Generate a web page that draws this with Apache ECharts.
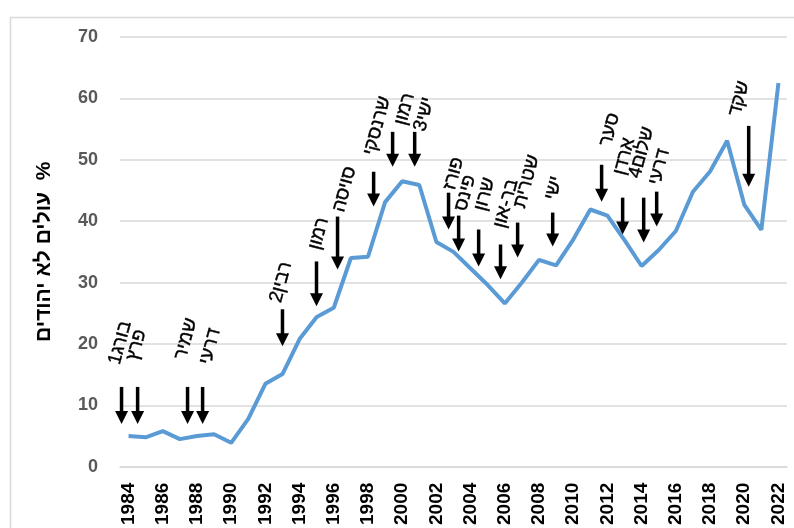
<!DOCTYPE html>
<html><head><meta charset="utf-8">
<script src="https://cdn.jsdelivr.net/npm/echarts@6/dist/echarts.min.js"></script>
<style>html,body{margin:0;padding:0;background:#fff}#c{width:794px;height:528px}</style>
</head><body><div id="c"></div>
<script>
const years = [];
for (let y = 1984; y <= 2022; y++) years.push(String(y));
const values = [5.0,4.8,5.8,4.5,5.0,5.3,3.9,7.8,13.5,15.1,20.8,24.4,25.9,34.0,34.2,43.1,46.5,45.9,36.6,35.0,32.3,29.6,26.6,30.0,33.7,32.8,37.0,41.9,40.9,36.9,32.7,35.3,38.4,44.8,48.1,53.1,42.7,38.6,62.5];
const yTicks = [0,10,20,30,40,50,60,70];
const yTitle = 'עולים לא יהודים  %';

// annotations (arrows marking ministers), in data units
const annoLabels = ['בורג1','פרץ','שמיר','דרעי','רבין2','רמון','סויסה','שרנסקי','רמון','ישי3','פורז','פינס','שרון','בר-און','שטרית','ישי','סער','ארדן','שלום4','דרעי','שקד'];
const annoYears  = [1983.59,1984.53,1987.45,1988.33,1993.0,1994.99,1996.22,1998.33,1999.44,2000.73,2002.71,2003.30,2004.47,2005.75,2006.75,2008.8,2011.66,2012.89,2014.12,2014.88,2020.26];
const annoTop    = [13.0,13.0,13.0,13.0,25.65,33.44,40.75,48.05,54.55,54.55,44.64,40.91,38.64,36.2,39.77,41.4,49.19,43.83,43.83,44.81,55.52];
const annoTip    = [6.98,6.98,6.98,6.98,19.64,26.14,32.14,42.37,48.86,48.86,38.64,35.06,32.63,30.52,34.09,35.88,43.18,37.82,36.53,39.12,45.62];
const labelYears = [1983.18,1984.23,1987.04,1988.5,1992.6,1994.88,1996.28,1998.09,1999.91,2001.02,2002.77,2003.42,2004.58,2005.7,2006.87,2008.68,2011.89,2012.71,2013.6,2014.76,2019.44];
const labelVals  = [16.72,17.37,17.53,16.72,26.79,35.39,41.56,50.81,55.68,54.71,45.13,41.72,41.72,38.96,42.21,43.51,52.27,47.56,47.08,45.94,57.14];

const FONT = '"Liberation Sans", Arial, sans-serif';
const chart = echarts.init(document.getElementById('c'), null, {renderer:'canvas'});
const ANG = 75 * Math.PI / 180;
function renderArrow(params, api) {
  const i = params.dataIndex;
  const top = api.coord([annoYears[i], annoTop[i]]);
  const tip = api.coord([annoYears[i], annoTip[i]]);
  const lab = api.coord([labelYears[i], labelVals[i]]);
  const head = 13, hw = 6.5;
  return {
    type: 'group',
    children: [
      {type:'line', shape:{x1:top[0], y1:top[1], x2:tip[0], y2:tip[1]-head+1}, style:{stroke:'#000', lineWidth:3.5}},
      {type:'polygon', shape:{points:[[tip[0]-hw, tip[1]-head],[tip[0]+hw, tip[1]-head],[tip[0], tip[1]]]}, style:{fill:'#000'}},
      {type:'text', x:lab[0], y:lab[1], rotation:ANG,
       style:{text:annoLabels[i], x:0, y:0, fill:'#000', align:'left', verticalAlign:'middle',
              font:'19px ' + FONT, stroke:'#000', lineWidth:0.4}}
    ]
  };
}

chart.setOption({
  animation:false,
  backgroundColor:'#fff',
  graphic:[{type:'rect', left:8, top:15, shape:{width:800, height:530}, style:{fill:'none', stroke:'#d9d9d9', lineWidth:1.5}, silent:true, z:-1}],
  grid:{left:120, right:7, top:37, bottom:60, containLabel:false},
  xAxis:[{
    type:'category', data:years, boundaryGap:true,
    axisLine:{show:true, lineStyle:{color:'#d9d9d9', width:1.5}},
    axisTick:{show:false},
    axisLabel:{interval:1, rotate:90, margin:16, color:'#000', fontWeight:'bold', fontSize:19, fontFamily:FONT}
  },{
    type:'value', min:1983.5, max:2022.5, show:false
  }],
  yAxis:{
    type:'value', min:yTicks[0], max:yTicks[yTicks.length-1], interval:10,
    name:yTitle, nameLocation:'middle', nameGap:65, nameRotate:90,
    nameTextStyle:{color:'#000', fontWeight:'bold', fontSize:21, fontFamily:FONT},
    axisLine:{show:false}, axisTick:{show:false},
    axisLabel:{margin:22, color:'#595959', fontWeight:'bold', fontSize:18, fontFamily:FONT},
    splitLine:{lineStyle:{color:'#d9d9d9', width:1.5}}
  },
  series:[{
    type:'line', data:values, xAxisIndex:0, showSymbol:false, symbol:'none',
    lineStyle:{color:'#5b9bd5', width:4}, z:3
  },{
    type:'custom', xAxisIndex:1, renderItem:renderArrow,
    data:annoYears.map((y,i)=>[y, annoTop[i]]), z:5, clip:false
  }]
});
</script></body></html>
